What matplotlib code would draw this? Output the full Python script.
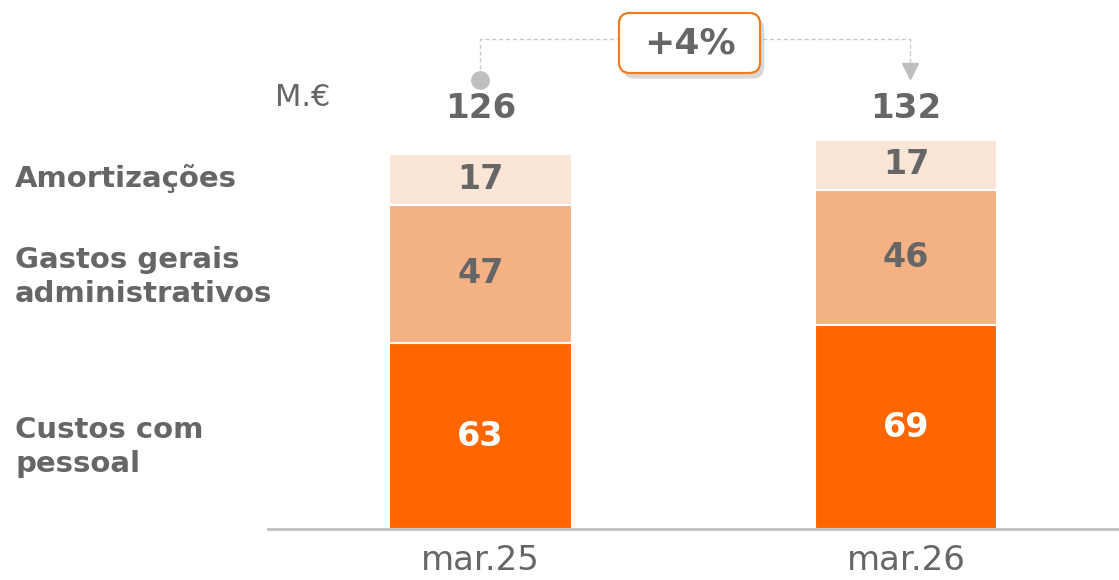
import matplotlib
matplotlib.use("Agg")
import matplotlib.pyplot as plt
import matplotlib.patheffects as pe
from matplotlib.patches import FancyBboxPatch
from matplotlib.transforms import blended_transform_factory, IdentityTransform
import numpy as np

periods = ["mar.25", "mar.26"]
segments = ["Custos com\npessoal", "Gastos gerais\nadministrativos", "Amortizações"]
custos_pessoal = [63, 69]
gastos_gerais = [47, 46]
amortizacoes = [17, 17]
totals = [126, 132]
change_label = "+4%"
unit_label = "M.€"

GRAY = "#666666"
colors = ["#FF6600", "#F4B183", "#FBE5D6"]
text_colors = ["white", GRAY, GRAY]

plt.rcParams['font.family'] = ['DejaVu Sans']
fig = plt.figure(figsize=(11.19, 5.80), dpi=100)
W, H = 1119, 580
ax = fig.add_axes([268 / W, 51 / H, (W - 268) / W, 529 / H])

x = np.arange(len(periods))
bottom = np.zeros(len(periods))
series = [custos_pessoal, gastos_gerais, amortizacoes]
for vals, c, tc in zip(series, colors, text_colors):
    vals = np.array(vals, dtype=float)
    ax.bar(x, vals, bottom=bottom, width=0.43, color=c, edgecolor="white", linewidth=1.5)
    for xi, b, v in zip(x, bottom, vals):
        ax.text(xi, b + v / 2, f"{int(v)}", ha="center", va="center",
                fontsize=24, fontweight="bold", color=tc)
    bottom += vals

ax.set_xlim(-0.4994, 1.5006)
ax.set_ylim(0, 529 / 2.95)

for s in ["top", "right", "left"]:
    ax.spines[s].set_visible(False)
ax.spines["bottom"].set_color("#BFBFBF")
ax.spines["bottom"].set_linewidth(2)
ax.set_yticks([])
ax.set_xticks(x)
ax.set_xticklabels(periods, fontsize=24.5, color=GRAY)
ax.tick_params(axis="x", length=0, pad=11)

trans = blended_transform_factory(ax.transData, ax.transAxes)
# totals
for xi, t in zip(x, totals):
    ax.text(xi, (529 - 109) / 529, f"{t}", transform=trans, ha="center", va="center",
            fontsize=24.5, fontweight="bold", color=GRAY)

# connector
yline = (529 - 39) / 529
x0, x1 = x[0], x[1] + 0.01
ax.plot([x0, x0, x1, x1], [(529 - 76) / 529, yline, yline, (529 - 66) / 529],
        transform=trans, color="#C8C8C8", linestyle=(0, (3, 2)), linewidth=1, clip_on=False)
ax.plot([x0], [(529 - 80) / 529], marker="o", markersize=12.5, color="#BFBFBF",
        transform=trans, clip_on=False)
ax.plot([x1], [(529 - 71) / 529], marker="v", markersize=12, color="#BFBFBF",
        transform=trans, clip_on=False)

# change box (pixel-positioned decoration)
box = FancyBboxPatch((619, H - 73), 141, 60, boxstyle="round,pad=0,rounding_size=11",
                     transform=IdentityTransform(), fc="white", ec="#F47B20", lw=1.5,
                     zorder=10, clip_on=False)
box.set_path_effects([pe.withSimplePatchShadow(offset=(3, -4), alpha=0.3, shadow_rgbFace="#808080"),
                      pe.Normal()])
fig.patches.append(box)
fig.text(689.5 / W, 1 - 43 / H, change_label, ha="center", va="center",
         fontsize=26, fontweight="bold", color=GRAY, zorder=11)

# unit label
fig.text(275 / W, 1 - 97 / H, unit_label, ha="left", va="center", fontsize=22, color=GRAY)

# category labels
label_y = [447, 277, 178]
for lab, yy in zip(segments, label_y):
    fig.text(15 / W, 1 - yy / H, lab, ha="left", va="center", fontsize=21,
             fontweight="bold", color=GRAY, linespacing=1.3)

fig.savefig("out.png", dpi=100)
